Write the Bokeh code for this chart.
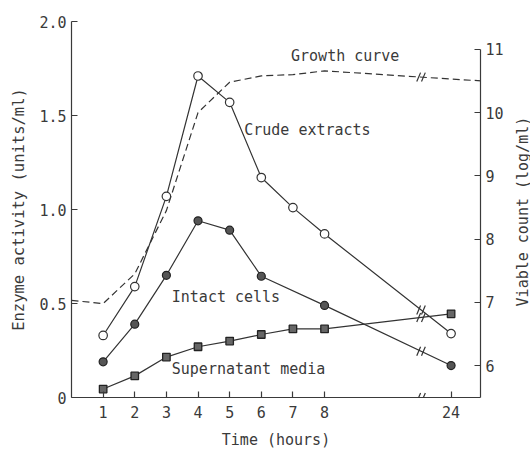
import numpy as np
from bokeh.plotting import figure
from bokeh.layouts import row
from bokeh.models import (Range1d, LinearAxis, FixedTicker, Label, Arrow, NumeralTickFormatter)
from bokeh.core.properties import value
from bokeh.embed import file_html
from bokeh.resources import INLINE

# ---------------- data ----------------
crude_hours = [1, 2, 3, 4, 5, 6, 7, 8, 24]
crude = [0.33, 0.59, 1.07, 1.71, 1.57, 1.17, 1.01, 0.87, 0.34]

intact_hours = [1, 2, 3, 4, 5, 6, 8, 24]
intact = [0.19, 0.39, 0.65, 0.94, 0.89, 0.645, 0.49, 0.17]

super_hours = [1, 2, 3, 4, 5, 6, 7, 8, 24]
supernatant = [0.045, 0.115, 0.215, 0.27, 0.30, 0.335, 0.365, 0.365, 0.445]

growth_hours = [0, 1, 2, 3, 4, 5, 6, 7, 8, 24, 25]
growth = [7.03, 6.98, 7.45, 8.45, 10.0, 10.48, 10.58, 10.6, 10.66, 10.53, 10.5]

x_ticks_hours = [1, 2, 3, 4, 5, 6, 7, 8, 24]
left_ticks = [0, 0.5, 1.0, 1.5, 2.0]
left_tick_labels = ["0", "0.5", "1.0", "1.5", "2.0"]
right_ticks = [6, 7, 8, 9, 10, 11]

FONT = "DejaVu Sans Mono"
INK = "#3a3a3a"
BREAK_X = 11.05  # position of the axis break (broken-axis units)


def pos(t):
    """Broken time axis: 0-8 h linear, 24 h drawn at position 12."""
    return t if t <= 8 else t - 12


def positions(hours):
    return [pos(t) for t in hours]


p = figure(width=506, height=451, x_range=Range1d(0, 12.93), y_range=Range1d(0, 2.0),
           output_backend="svg", toolbar_location=None,
           min_border_left=71, min_border_right=23, min_border_top=21, min_border_bottom=53)
p.extra_y_ranges = {"right": Range1d(5.495, 11.44)}
p.outline_line_color = None
p.xgrid.visible = False
p.ygrid.visible = False
p.background_fill_color = "white"
p.border_fill_color = "white"


def style_axis(ax):
    ax.axis_line_color = INK
    ax.axis_line_width = 1.2
    ax.major_tick_line_color = INK
    ax.major_tick_line_width = 1.2
    ax.major_tick_in = 6
    ax.major_tick_out = 0
    ax.minor_tick_line_color = None
    ax.major_label_text_font = FONT
    ax.major_label_text_font_size = "15px"
    ax.major_label_text_color = INK
    ax.axis_label_text_font = FONT
    ax.axis_label_text_font_size = "15px"
    ax.axis_label_text_color = INK
    ax.axis_label_text_font_style = "normal"


# x axis
xa = p.xaxis[0]
style_axis(xa)
xa.ticker = FixedTicker(ticks=positions(x_ticks_hours))
xa.major_label_overrides = {pos(t): str(t) for t in x_ticks_hours}
xa.major_label_standoff = 8
xa.axis_label = "Time (hours)"
xa.axis_label_standoff = 10

# left axis
ya = p.yaxis[0]
style_axis(ya)
ya.ticker = FixedTicker(ticks=left_ticks)
ya.formatter = NumeralTickFormatter(format="0.0")
ya.major_label_overrides = dict(zip(left_ticks, left_tick_labels))
ya.major_label_standoff = 5
ya.axis_label = "Enzyme activity (units/ml)"
ya.axis_label_text_font_size = "15.5px"
ya.axis_label_standoff = 8

# right axis (ticks + numbers)
ra = LinearAxis(y_range_name="right", bounds=(5.495, 11))
style_axis(ra)
ra.ticker = FixedTicker(ticks=right_ticks)
ra.major_label_standoff = 5
p.add_layout(ra, "right")

# ---------------- series ----------------
LC = "#333333"
growth_x = positions(growth_hours)
p.line(growth_x, growth, y_range_name="right", line_color=LC, line_width=1.2, line_dash="7 4")

cx = positions(crude_hours)
p.line(cx, crude, line_color=LC, line_width=1.2)
p.scatter(cx, crude, marker="circle", size=8.5, fill_color="white", line_color=LC, line_width=1.2)

ix = positions(intact_hours)
p.line(ix, intact, line_color=LC, line_width=1.2)
p.scatter(ix, intact, marker="circle", size=8, fill_color="#555555", line_color="#222222", line_width=1.2)

sx = positions(super_hours)
p.line(sx, supernatant, line_color=LC, line_width=1.2)
p.scatter(sx, supernatant, marker="square", size=7.5, fill_color="#666666", line_color="#222222", line_width=1.3)

# ---------------- break marks ----------------
def slash_segments(xs, ys, dy):
    by = float(np.interp(BREAK_X, xs, ys))
    x0, y0, x1, y1 = [], [], [], []
    for off in (-0.075, 0.075):
        x0.append(BREAK_X + off - 0.06)
        x1.append(BREAK_X + off + 0.06)
        y0.append(by - dy)
        y1.append(by + dy)
    return x0, y0, x1, y1

for xs, ys in ((cx, crude), (ix, intact), (sx, supernatant)):
    x0, y0, x1, y1 = slash_segments(xs, ys, 0.024)
    p.segment(x0, y0, x1, y1, line_color=LC, line_width=1.2)

x0, y0, x1, y1 = slash_segments(growth_x, growth, 0.071)
p.segment(x0, y0, x1, y1, line_color=LC, line_width=1.2, y_range_name="right")

for off in (-0.075, 0.075):
    p.add_layout(Arrow(end=None, x_start=BREAK_X + off - 0.06, y_start=-0.024,
                       x_end=BREAK_X + off + 0.06, y_end=0.024,
                       line_color=LC, line_width=1.2))

# ---------------- text labels ----------------
def add_label(x, y, text, **kw):
    lab = Label(x=x, y=y, text=text, text_font=FONT, text_font_size="15px",
                text_color=INK, text_baseline="middle", **kw)
    p.add_layout(lab)

add_label(6.94, 1.814, "Growth curve", text_align="left")
add_label(5.46, 1.422, "Crude extracts", text_align="left")
add_label(3.17, 0.536, "Intact cells", text_align="left")
add_label(3.17, 0.154, "Supernatant media", text_align="left")

# ---------------- right-axis title strip ----------------
q = figure(width=24, height=451, x_range=Range1d(0, 24), y_range=Range1d(0, 451),
           output_backend="svg", toolbar_location=None,
           x_axis_type=None, y_axis_type=None,
           min_border_left=0, min_border_right=0, min_border_top=0, min_border_bottom=0)
q.outline_line_color = None
q.xgrid.visible = False
q.ygrid.visible = False
q.background_fill_color = "white"
q.border_fill_color = "white"
q.text(x=[16], y=[223], text=["Viable count (log/ml)"], angle=np.pi / 2,
       text_font=value(FONT), text_font_size="15px", text_color=INK,
       text_align="center", text_baseline="middle")

layout = row(p, q, spacing=0)
open("out.html", "w").write(file_html(layout, INLINE))
